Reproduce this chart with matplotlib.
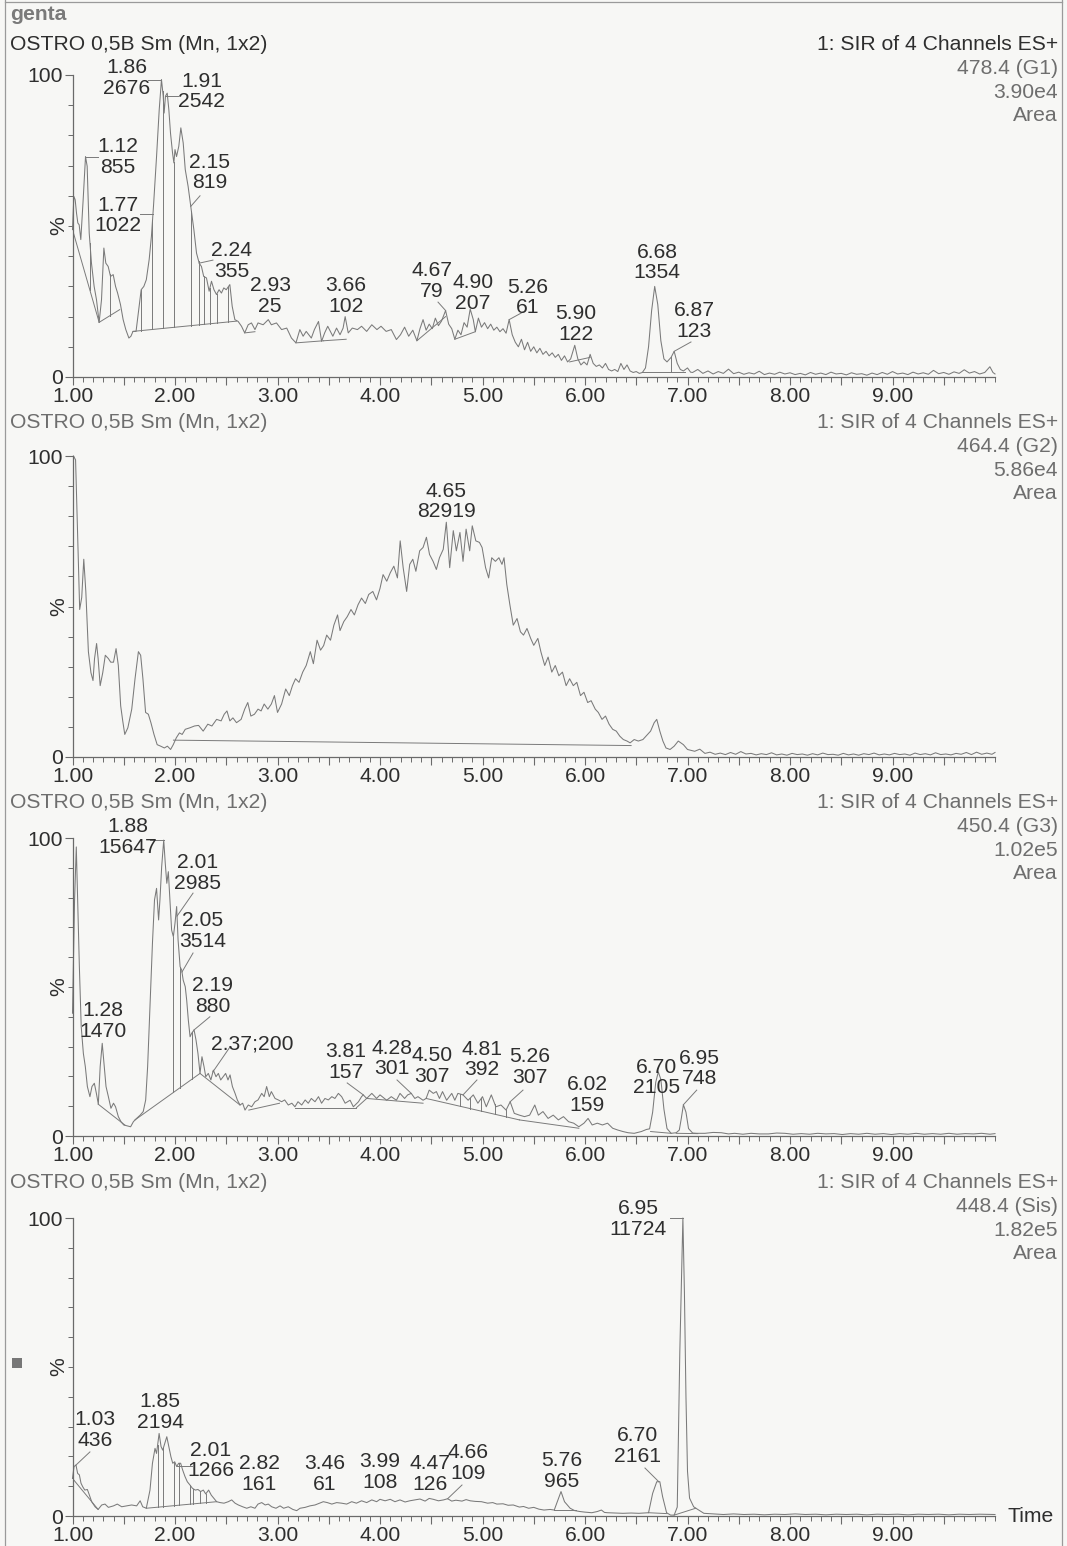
import numpy as np
import matplotlib.pyplot as plt
from matplotlib.lines import Line2D
from matplotlib.patches import Rectangle
from matplotlib.ticker import FixedLocator, MultipleLocator

plt.rcParams['font.family'] = ['Liberation Sans', 'DejaVu Sans']

W, H = 1067, 1546

# ---------------- 478.4 (G1) ----------------
g1_trace = [
    (1.000, 48.8), (1.013, 59.8), (1.026, 58.7), (1.039, 54.3), (1.052, 51.0), (1.065, 50.4),
    (1.081, 45.5), (1.104, 58.7), (1.127, 73.0), (1.143, 69.8), (1.163, 47.7), (1.185, 37.7),
    (1.211, 30.0), (1.234, 25.6), (1.260, 18.1), (1.283, 25.6), (1.306, 42.7), (1.325, 37.7),
    (1.348, 36.6), (1.371, 33.3), (1.397, 33.9), (1.420, 30.0), (1.440, 27.8), (1.468, 24.0),
    (1.494, 19.0), (1.520, 15.7), (1.550, 12.9), (1.570, 13.5), (1.590, 15.1), (1.620, 15.1),
    (1.650, 23.4), (1.670, 28.9), (1.696, 30.0), (1.720, 32.2), (1.748, 38.9), (1.770, 46.6),
    (1.790, 56.5), (1.820, 73.0), (1.846, 88.5), (1.868, 98.5), (1.885, 93.0), (1.894, 87.4),
    (1.907, 93.0), (1.924, 94.0), (1.940, 88.5), (1.956, 80.8), (1.976, 74.2), (1.989, 70.9),
    (2.000, 75.3), (2.015, 73.0), (2.037, 76.4), (2.057, 82.5), (2.080, 77.5), (2.100, 68.7),
    (2.128, 63.1), (2.154, 56.5), (2.184, 48.8), (2.210, 41.0), (2.236, 37.7), (2.258, 36.6),
    (2.280, 33.3), (2.307, 32.8), (2.333, 28.4), (2.356, 31.7), (2.380, 28.9), (2.405, 27.3),
    (2.430, 28.9), (2.453, 27.8), (2.476, 29.5), (2.500, 28.9), (2.535, 30.6), (2.558, 23.4),
    (2.584, 19.0), (2.616, 18.4), (2.649, 16.8), (2.680, 14.6), (2.714, 17.3), (2.746, 17.9),
    (2.780, 15.7), (2.810, 17.9), (2.860, 17.3), (2.910, 19.0), (2.940, 17.3), (2.990, 17.9),
    (3.040, 15.7), (3.090, 16.2), (3.136, 12.9), (3.180, 11.3), (3.218, 15.7), (3.250, 13.5),
    (3.280, 15.1), (3.330, 12.9), (3.360, 15.7), (3.400, 18.4), (3.430, 11.8), (3.460, 14.6),
    (3.490, 16.8), (3.540, 13.5), (3.576, 16.2), (3.610, 14.0), (3.640, 16.2), (3.660, 20.0),
    (3.690, 14.6), (3.730, 16.2), (3.780, 15.7), (3.820, 16.8), (3.870, 15.1), (3.920, 17.3),
    (3.970, 15.7), (4.010, 16.8), (4.060, 15.1), (4.110, 15.7), (4.160, 12.4), (4.200, 14.0),
    (4.240, 16.5), (4.280, 13.5), (4.320, 15.5), (4.360, 12.0), (4.390, 16.0), (4.420, 19.0),
    (4.450, 15.5), (4.480, 17.5), (4.510, 16.0), (4.540, 19.5), (4.570, 17.0), (4.600, 18.5),
    (4.640, 22.0), (4.670, 17.5), (4.700, 16.0), (4.730, 12.5), (4.760, 15.5), (4.790, 14.0),
    (4.820, 18.0), (4.850, 16.5), (4.880, 22.5), (4.910, 19.0), (4.930, 15.0), (4.960, 19.5),
    (4.990, 16.5), (5.020, 18.0), (5.050, 16.0), (5.080, 17.5), (5.110, 15.5), (5.140, 16.5),
    (5.170, 15.0), (5.200, 16.0), (5.230, 14.5), (5.260, 19.0), (5.290, 14.0), (5.320, 11.5),
    (5.350, 10.0), (5.380, 12.5), (5.410, 9.0), (5.440, 11.5), (5.470, 8.5), (5.500, 10.0),
    (5.530, 8.0), (5.560, 9.5), (5.590, 7.5), (5.620, 8.5), (5.650, 7.0), (5.680, 8.0),
    (5.710, 6.5), (5.740, 7.5), (5.770, 5.5), (5.800, 7.0), (5.830, 5.0), (5.860, 6.0),
    (5.900, 10.5), (5.930, 6.0), (5.960, 4.0), (5.990, 5.0), (6.020, 4.0), (6.050, 7.5),
    (6.080, 4.5), (6.110, 3.5), (6.140, 4.0), (6.170, 3.0), (6.200, 4.5), (6.230, 2.5),
    (6.260, 2.0), (6.290, 2.5), (6.320, 1.8), (6.350, 4.5), (6.380, 2.5), (6.410, 4.0),
    (6.440, 2.0), (6.470, 1.5), (6.500, 1.8), (6.530, 1.2), (6.560, 1.5), (6.590, 3.0),
    (6.620, 10.0), (6.650, 22.0), (6.680, 30.0), (6.710, 24.0), (6.740, 12.0), (6.770, 6.0),
    (6.800, 5.0), (6.840, 6.5), (6.870, 8.5), (6.900, 4.5), (6.930, 2.5), (6.960, 2.0),
    (7.000, 3.0), (7.030, 1.6), (7.050, 1.5), (7.100, 2.5), (7.150, 1.2), (7.200, 2.0),
    (7.250, 1.0), (7.300, 1.8), (7.350, 1.2), (7.400, 2.6), (7.450, 1.1), (7.500, 1.6),
    (7.550, 0.9), (7.600, 1.4), (7.650, 1.0), (7.700, 1.9), (7.750, 0.8), (7.800, 1.3),
    (7.850, 0.9), (7.900, 1.6), (7.950, 1.0), (8.000, 1.4), (8.050, 0.8), (8.100, 1.2),
    (8.150, 0.7), (8.200, 1.5), (8.250, 0.9), (8.300, 1.3), (8.350, 0.8), (8.400, 1.6),
    (8.450, 1.0), (8.500, 1.2), (8.550, 0.7), (8.600, 1.4), (8.650, 0.9), (8.700, 1.1),
    (8.750, 0.6), (8.800, 1.3), (8.850, 0.8), (8.900, 1.5), (8.950, 0.9), (9.000, 1.8),
    (9.050, 1.0), (9.100, 1.3), (9.150, 0.8), (9.200, 1.6), (9.250, 1.0), (9.300, 1.4),
    (9.350, 0.9), (9.400, 2.2), (9.450, 1.1), (9.500, 1.5), (9.550, 0.9), (9.600, 1.7),
    (9.650, 1.2), (9.700, 2.4), (9.750, 1.3), (9.800, 1.8), (9.850, 1.0), (9.900, 1.5),
    (9.950, 3.4), (9.980, 1.5), (10.00, 1.0),
]
g1_base = [(1.00, 48.8, 1.26, 18.1), (1.26, 18.1, 1.46, 22.3), (1.59, 15.1, 2.60, 18.5),
           (2.68, 14.6, 2.78, 15.0), (3.18, 11.3, 3.45, 12.0), (3.45, 12.0, 3.67, 12.5),
           (4.36, 12.0, 4.64, 20.0), (4.73, 12.5, 4.93, 15.0), (5.85, 5.0, 6.05, 6.5),
           (6.56, 1.5, 6.98, 1.5)]
g1_drops = [1.17, 1.365, 1.67, 1.78, 1.88, 1.99, 2.16, 2.23, 2.28, 2.34, 2.41, 2.52, 6.84]
g1_labels = ['1.86\n2676', '1.91\n2542', '1.12\n855', '1.77\n1022', '2.15\n819', '2.24\n355',
             '2.93\n25', '3.66\n102', '4.67\n79', '4.90\n207', '5.26\n61', '5.90\n122',
             '6.68\n1354', '6.87\n123']
g1_lab_pos = [(1.532, 99.0), (2.263, 94.5), (1.444, 72.8), (1.444, 53.5), (2.341, 67.7),
              (2.556, 38.4), (2.927, 26.8), (3.668, 26.8), (4.507, 31.8), (4.907, 27.8),
              (5.444, 26.3), (5.912, 17.5), (6.702, 37.9), (7.063, 18.5)]
g1_leaders = [(1.737, None, 1.868), (2.03, None, 1.907), (1.249, None, 1.127),
              (1.659, None, 1.785), (2.244, 60.0, 2.154), (2.37, 38.7, 2.236),
              None, None, (4.566, 24.8, 4.64), None, (5.395, 21.5, 5.26), None, None,
              (7.034, 11.6, 6.87)]

# ---------------- 464.4 (G2) ----------------
g2_trace = [
    (1.010, 100.0), (1.030, 98.7), (1.055, 68.0), (1.070, 49.0), (1.090, 53.0), (1.110, 65.7),
    (1.130, 55.0), (1.155, 35.0), (1.180, 28.0), (1.200, 25.4), (1.215, 32.7), (1.235, 37.7),
    (1.250, 32.7), (1.270, 23.7), (1.295, 28.0), (1.320, 33.8), (1.350, 32.7), (1.373, 31.5),
    (1.400, 31.5), (1.425, 36.0), (1.447, 30.4), (1.470, 17.0), (1.490, 12.0), (1.510, 7.5),
    (1.540, 9.7), (1.578, 15.9), (1.610, 26.0), (1.643, 35.0), (1.665, 33.8), (1.687, 26.0),
    (1.713, 14.8), (1.740, 14.2), (1.765, 11.4), (1.795, 7.5), (1.826, 4.1), (1.860, 3.6),
    (1.896, 3.0), (1.926, 3.6), (1.957, 2.5), (1.983, 4.1), (2.013, 6.4), (2.043, 8.0),
    (2.070, 7.5), (2.100, 9.2), (2.145, 9.7), (2.190, 10.3), (2.230, 10.5), (2.275, 8.6),
    (2.320, 10.9), (2.360, 10.3), (2.406, 12.5), (2.450, 12.0), (2.480, 14.2), (2.507, 15.3),
    (2.535, 12.0), (2.565, 13.0), (2.600, 11.4), (2.645, 12.5), (2.680, 15.9), (2.710, 18.1),
    (2.740, 13.6), (2.775, 14.2), (2.810, 15.9), (2.840, 15.3), (2.870, 17.6), (2.906, 15.9),
    (2.940, 17.6), (2.970, 20.4), (3.000, 14.8), (3.040, 17.6), (3.080, 22.6), (3.115, 20.4),
    (3.146, 23.7), (3.176, 26.0), (3.210, 24.8), (3.246, 28.2), (3.280, 30.4), (3.320, 35.0),
    (3.350, 31.0), (3.386, 38.8), (3.420, 35.5), (3.450, 37.0), (3.480, 40.5), (3.517, 38.8),
    (3.550, 43.8), (3.586, 47.2), (3.610, 42.0), (3.647, 45.0), (3.680, 46.6), (3.717, 49.0),
    (3.750, 47.2), (3.786, 50.6), (3.820, 52.8), (3.857, 51.0), (3.890, 54.0), (3.930, 55.0),
    (3.966, 52.2), (4.000, 56.0), (4.030, 60.6), (4.066, 58.4), (4.100, 61.2), (4.135, 63.4),
    (4.170, 59.5), (4.197, 71.8), (4.226, 62.9), (4.260, 55.0), (4.290, 64.0), (4.320, 65.7),
    (4.350, 61.7), (4.387, 68.5), (4.420, 69.6), (4.453, 73.0), (4.483, 67.3), (4.518, 65.0),
    (4.550, 62.3), (4.580, 66.2), (4.617, 69.0), (4.647, 78.0), (4.680, 62.9), (4.715, 75.2),
    (4.745, 68.5), (4.780, 74.6), (4.810, 65.0), (4.840, 75.7), (4.875, 68.5), (4.900, 76.8),
    (4.935, 71.8), (4.970, 71.3), (4.996, 69.6), (5.030, 62.9), (5.060, 59.5), (5.090, 66.2),
    (5.126, 65.0), (5.160, 66.2), (5.190, 64.0), (5.210, 66.2), (5.237, 57.3), (5.267, 50.6),
    (5.300, 43.8), (5.337, 46.0), (5.370, 41.6), (5.400, 40.5), (5.434, 42.7), (5.470, 39.4),
    (5.500, 37.1), (5.540, 39.4), (5.570, 34.9), (5.607, 30.4), (5.640, 33.2), (5.676, 28.2),
    (5.710, 30.4), (5.745, 27.0), (5.780, 28.2), (5.816, 23.7), (5.850, 26.0), (5.886, 23.7),
    (5.920, 24.8), (5.956, 20.4), (5.990, 21.5), (6.026, 18.1), (6.060, 18.7), (6.100, 15.9),
    (6.130, 14.8), (6.166, 12.5), (6.200, 13.6), (6.235, 10.9), (6.270, 9.2), (6.305, 8.6),
    (6.340, 6.9), (6.374, 5.8), (6.410, 5.3), (6.440, 4.7), (6.480, 5.8), (6.520, 5.3),
    (6.565, 5.8), (6.610, 7.5), (6.640, 8.6), (6.675, 11.4), (6.700, 12.5), (6.730, 8.6),
    (6.760, 5.3), (6.790, 3.0), (6.830, 2.5), (6.870, 3.6), (6.910, 5.3), (6.960, 4.1),
    (7.000, 2.5), (7.070, 1.9), (7.120, 2.6), (7.170, 1.2), (7.220, 1.6), (7.270, 0.9),
    (7.320, 1.3), (7.370, 0.8), (7.420, 1.5), (7.470, 0.9), (7.520, 1.8), (7.570, 1.0),
    (7.620, 1.2), (7.670, 0.7), (7.720, 1.1), (7.770, 0.8), (7.820, 1.4), (7.870, 0.7),
    (7.920, 1.0), (7.970, 0.6), (8.020, 1.2), (8.070, 0.8), (8.120, 1.0), (8.170, 0.6),
    (8.220, 1.1), (8.270, 0.7), (8.320, 1.3), (8.370, 0.8), (8.420, 0.9), (8.470, 0.6),
    (8.520, 1.2), (8.570, 0.7), (8.620, 1.0), (8.670, 0.6), (8.720, 1.1), (8.770, 0.8),
    (8.820, 1.3), (8.870, 0.7), (8.920, 1.0), (8.970, 0.7), (9.020, 1.2), (9.070, 0.8),
    (9.120, 1.0), (9.170, 0.6), (9.220, 1.3), (9.270, 0.8), (9.320, 1.1), (9.370, 0.7),
    (9.420, 1.4), (9.470, 0.8), (9.520, 1.0), (9.570, 0.7), (9.620, 1.2), (9.670, 0.9),
    (9.720, 1.5), (9.770, 0.8), (9.820, 1.6), (9.870, 0.9), (9.920, 1.3), (9.970, 0.9),
    (10.00, 1.5),
]
g2_base = [(1.985, 5.6, 6.45, 3.8)]
g2_drops = []
g2_labels = ['4.65\n82919']
g2_lab_pos = [(4.645, 84.9)]
g2_leaders = [None]

# ---------------- 450.4 (G3) ----------------
g3_trace = [
    (1.000, 41.2), (1.020, 79.0), (1.037, 97.0), (1.050, 79.0), (1.067, 56.8), (1.085, 36.7),
    (1.106, 27.7), (1.125, 23.3), (1.145, 16.6), (1.170, 13.2), (1.190, 16.6), (1.213, 17.7),
    (1.233, 14.3), (1.252, 10.7), (1.270, 23.3), (1.290, 31.1), (1.307, 24.4), (1.327, 16.6),
    (1.350, 13.2), (1.375, 9.3), (1.400, 11.0), (1.420, 9.8), (1.447, 6.5), (1.473, 4.8),
    (1.500, 3.7), (1.535, 3.4), (1.567, 3.1), (1.594, 4.8), (1.625, 5.9), (1.660, 7.0),
    (1.690, 8.2), (1.714, 12.1), (1.733, 23.3), (1.756, 43.4), (1.780, 64.7), (1.800, 79.2),
    (1.820, 83.1), (1.840, 72.5), (1.853, 79.2), (1.870, 90.4), (1.890, 99.3), (1.905, 91.5),
    (1.920, 84.8), (1.935, 88.7), (1.950, 79.2), (1.967, 69.1), (1.984, 66.9), (2.000, 71.4),
    (2.016, 77.0), (2.030, 65.8), (2.050, 56.8), (2.065, 55.7), (2.080, 52.3), (2.100, 50.1),
    (2.114, 45.6), (2.130, 38.9), (2.147, 33.3), (2.163, 34.5), (2.186, 35.6), (2.205, 32.2),
    (2.224, 27.7), (2.244, 21.0), (2.263, 26.6), (2.283, 23.3), (2.300, 19.9), (2.325, 21.0),
    (2.350, 18.8), (2.374, 22.1), (2.400, 19.9), (2.423, 21.0), (2.446, 18.8), (2.470, 19.9),
    (2.494, 21.0), (2.517, 18.8), (2.537, 20.5), (2.560, 16.6), (2.586, 14.3), (2.608, 12.1),
    (2.634, 10.4), (2.660, 11.0), (2.683, 8.7), (2.715, 10.4), (2.748, 9.8), (2.780, 11.5),
    (2.810, 12.1), (2.846, 14.3), (2.870, 13.2), (2.894, 16.6), (2.920, 13.2), (2.940, 14.9),
    (2.976, 12.6), (3.008, 12.1), (3.040, 11.5), (3.070, 12.1), (3.105, 10.4), (3.140, 11.0),
    (3.170, 9.8), (3.200, 11.5), (3.236, 10.4), (3.270, 12.1), (3.300, 11.0), (3.330, 12.6),
    (3.366, 11.5), (3.400, 13.2), (3.430, 11.0), (3.463, 12.6), (3.496, 12.1), (3.530, 13.2),
    (3.560, 12.6), (3.594, 14.3), (3.626, 13.2), (3.660, 11.0), (3.708, 12.0), (3.740, 9.8),
    (3.790, 11.5), (3.820, 13.2), (3.837, 13.8), (3.870, 12.6), (3.920, 14.3), (3.967, 12.6),
    (4.000, 13.8), (4.065, 12.0), (4.110, 13.2), (4.160, 12.0), (4.195, 14.3), (4.240, 12.6),
    (4.270, 13.8), (4.305, 14.3), (4.340, 12.6), (4.370, 13.2), (4.420, 12.0), (4.450, 12.6),
    (4.480, 15.4), (4.520, 14.3), (4.550, 14.9), (4.580, 12.6), (4.610, 14.9), (4.650, 12.0),
    (4.700, 14.3), (4.730, 12.0), (4.760, 14.3), (4.810, 13.8), (4.860, 12.0), (4.910, 13.8),
    (4.955, 11.0), (5.000, 13.2), (5.037, 9.8), (5.086, 13.8), (5.130, 9.8), (5.180, 10.4),
    (5.230, 8.7), (5.270, 11.5), (5.310, 7.6), (5.360, 7.0), (5.410, 6.5), (5.460, 7.0),
    (5.510, 10.4), (5.545, 7.0), (5.590, 8.2), (5.640, 5.9), (5.690, 7.0), (5.740, 5.4),
    (5.790, 6.5), (5.840, 4.8), (5.890, 4.3), (5.940, 3.1), (5.990, 4.3), (6.030, 5.9),
    (6.070, 3.7), (6.120, 4.3), (6.170, 3.7), (6.220, 4.3), (6.270, 2.6), (6.320, 2.0),
    (6.370, 1.5), (6.420, 1.1), (6.480, 0.9), (6.550, 1.5), (6.600, 2.2), (6.630, 2.4),
    (6.660, 8.0), (6.690, 18.0), (6.715, 21.5), (6.740, 19.0), (6.770, 9.0), (6.800, 2.5),
    (6.840, 0.9), (6.890, 1.1), (6.920, 2.0), (6.940, 6.0), (6.960, 10.5), (6.985, 8.0),
    (7.010, 2.5), (7.050, 1.0), (7.090, 0.9), (7.170, 0.9), (7.250, 1.2), (7.330, 1.1),
    (7.400, 0.7), (7.460, 0.9), (7.540, 0.6), (7.620, 0.9), (7.700, 0.7), (7.790, 0.7),
    (7.870, 1.0), (7.950, 0.9), (8.030, 0.6), (8.110, 0.8), (8.190, 0.6), (8.270, 0.9),
    (8.350, 0.7), (8.430, 0.8), (8.510, 0.5), (8.590, 0.8), (8.670, 0.6), (8.750, 0.9),
    (8.830, 0.6), (8.910, 0.8), (8.990, 0.5), (9.070, 0.8), (9.150, 0.6), (9.230, 0.9),
    (9.310, 0.6), (9.390, 0.8), (9.470, 0.6), (9.550, 0.9), (9.630, 0.6), (9.710, 0.8),
    (9.790, 0.7), (9.870, 0.9), (9.950, 0.6), (10.00, 0.8),
]
g3_base = [(1.25, 10.7, 1.51, 3.7), (1.61, 5.4, 2.244, 21.0), (2.244, 21.0, 2.634, 10.4),
           (2.72, 8.7, 3.02, 11.0), (3.17, 9.5, 3.77, 9.5), (3.77, 9.5, 3.87, 12.6),
           (3.87, 12.6, 4.42, 11.0), (4.45, 12.6, 5.36, 5.4), (5.36, 5.4, 5.94, 2.6),
           (6.64, 1.5, 6.84, 0.9), (6.89, 0.9, 7.10, 0.8)]
g3_drops = [1.984, 2.05, 2.17, 4.78, 4.88, 4.99, 5.12, 5.23]
g3_labels = ['1.88\n15647', '2.01\n2985', '2.05\n3514', '2.19\n880', '1.28\n1470', '2.37;200',
             '3.81\n157', '4.28\n301', '4.50\n307', '4.81\n392', '5.26\n307', '6.02\n159',
             '6.70\n2105', '6.95\n748']
g3_lab_pos = [(1.542, 100.3), (2.224, 88.3), (2.27, 68.8), (2.37, 47.0), (1.298, 38.6),
              (2.751, 30.9), (3.668, 24.8), (4.117, 26.0), (4.507, 23.5), (4.995, 25.7),
              (5.463, 23.2), (6.02, 13.8), (6.70, 19.6), (7.12, 22.7)]
g3_leaders = [(1.756, None, 1.89), (2.176, 81.5, 2.02), (2.176, 61.4, 2.068),
              (2.34, 40.0, 2.186), None, (2.537, 29.9, 2.37), (3.68, 17.8, 3.837),
              (4.166, 18.8, 4.305), None, (4.946, 18.8, 4.81), (5.395, 15.4, 5.27),
              None, None, (7.09, 15.4, 6.96)]

# ---------------- 448.4 (Sis) ----------------
g4_trace = [
    (1.000, 12.6), (1.015, 16.6), (1.034, 17.1), (1.050, 14.3), (1.067, 13.8), (1.083, 11.0),
    (1.100, 9.8), (1.120, 8.7), (1.145, 8.9), (1.165, 7.0), (1.187, 4.8), (1.220, 3.1),
    (1.250, 2.2), (1.285, 3.7), (1.317, 4.0), (1.350, 2.9), (1.400, 3.4), (1.437, 4.0),
    (1.480, 3.1), (1.530, 3.4), (1.577, 3.7), (1.626, 3.4), (1.660, 5.1), (1.685, 3.1),
    (1.720, 2.6), (1.756, 8.7), (1.780, 17.7), (1.805, 22.7), (1.820, 21.0), (1.845, 27.7),
    (1.864, 23.3), (1.880, 22.1), (1.900, 24.4), (1.920, 26.6), (1.940, 23.3), (1.960, 19.9),
    (1.978, 17.7), (1.997, 18.2), (2.016, 16.6), (2.036, 17.7), (2.055, 17.7), (2.075, 15.4),
    (2.098, 13.2), (2.120, 11.5), (2.146, 10.4), (2.170, 9.3), (2.198, 8.7), (2.224, 8.9),
    (2.250, 8.2), (2.276, 8.7), (2.300, 7.4), (2.328, 8.7), (2.354, 7.0), (2.380, 5.9),
    (2.406, 4.8), (2.440, 4.5), (2.478, 4.3), (2.520, 4.8), (2.553, 5.4), (2.586, 4.3),
    (2.618, 3.7), (2.660, 3.1), (2.700, 2.6), (2.740, 3.1), (2.780, 2.6), (2.810, 4.0),
    (2.846, 4.5), (2.880, 3.7), (2.910, 4.0), (2.943, 3.1), (2.985, 2.6), (3.025, 3.4),
    (3.060, 2.6), (3.105, 3.1), (3.150, 2.2), (3.187, 1.8), (3.220, 2.6), (3.270, 2.9),
    (3.317, 3.4), (3.366, 3.7), (3.410, 4.3), (3.447, 4.8), (3.486, 4.5), (3.530, 4.0),
    (3.577, 4.5), (3.626, 4.3), (3.675, 4.0), (3.724, 4.8), (3.770, 4.3), (3.820, 5.1),
    (3.870, 4.5), (3.920, 5.4), (3.967, 4.8), (4.000, 5.6), (4.050, 5.1), (4.100, 5.6),
    (4.146, 4.8), (4.195, 5.4), (4.245, 4.7), (4.290, 5.1), (4.340, 5.4), (4.390, 5.7),
    (4.440, 5.0), (4.480, 5.9), (4.520, 5.6), (4.570, 5.1), (4.620, 5.4), (4.660, 5.8),
    (4.700, 5.0), (4.740, 5.3), (4.800, 5.0), (4.840, 5.5), (4.880, 5.1), (4.930, 4.9),
    (4.990, 4.8), (5.050, 4.3), (5.100, 4.5), (5.140, 4.0), (5.200, 4.1), (5.250, 3.6),
    (5.300, 3.7), (5.360, 3.0), (5.400, 3.2), (5.450, 2.6), (5.500, 2.9), (5.550, 2.3),
    (5.600, 2.0), (5.660, 2.2), (5.700, 2.0), (5.730, 4.8), (5.766, 8.2), (5.800, 4.8),
    (5.855, 2.6), (5.900, 1.8), (5.950, 1.5), (6.000, 1.3), (6.066, 1.1), (6.120, 1.5),
    (6.160, 2.0), (6.190, 1.2), (6.220, 1.1), (6.300, 1.0), (6.370, 0.9), (6.450, 1.0),
    (6.526, 0.9), (6.580, 1.0), (6.620, 1.1), (6.660, 7.6), (6.700, 11.5), (6.730, 11.5),
    (6.757, 6.5), (6.796, 1.1), (6.835, 0.3), (6.870, 0.3), (6.900, 3.0), (6.925, 55.0),
    (6.955, 100.0), (6.970, 75.0), (6.985, 40.0), (7.000, 15.0), (7.020, 6.0), (7.060, 3.1),
    (7.100, 2.2), (7.160, 0.9), (7.250, 0.7), (7.350, 0.5), (7.450, 0.7), (7.550, 0.5),
    (7.650, 0.6), (7.750, 0.4), (7.850, 0.6), (7.950, 0.5), (8.050, 0.7), (8.150, 0.5),
    (8.250, 0.6), (8.350, 0.4), (8.450, 0.6), (8.550, 0.5), (8.650, 0.6), (8.750, 0.4),
    (8.850, 0.6), (8.950, 0.5), (9.050, 0.6), (9.150, 0.4), (9.250, 0.6), (9.350, 0.5),
    (9.450, 0.6), (9.550, 0.4), (9.650, 0.6), (9.750, 0.5), (9.850, 0.6), (10.00, 0.5),
]
g4_base = [(1.00, 12.6, 1.25, 2.2), (1.72, 2.6, 2.406, 4.8), (5.70, 2.0, 5.91, 2.0),
           (6.62, 1.1, 6.80, 0.8), (6.87, 0.3, 7.08, 2.6)]
g4_drops = [1.83, 1.886, 1.99, 2.04, 2.146, 2.18, 2.24, 2.30]
g4_labels = ['1.03\n436', '1.85\n2194', '2.01\n1266', '2.82\n161', '3.46\n61', '3.99\n108',
             '4.47\n126', '4.66\n109', '5.76\n965', '6.70\n2161', '6.95\n11724']
g4_lab_pos = [(1.22, 28.9), (1.854, 34.9), (2.351, 18.6), (2.82, 14.1), (3.463, 14.1),
              (4.0, 14.8), (4.49, 14.1), (4.858, 17.8), (5.776, 15.1), (6.51, 23.5),
              (6.52, 99.7)]
g4_leaders = [(1.17, 21.5, 1.034), None, (2.166, None, 2.02), None, None, None, None,
              (4.80, 10.4, 4.66), None, (6.585, 16.1, 6.72), (6.83, None, 6.955)]

# header texts
channel_names = ['478.4 (G1)', '464.4 (G2)', '450.4 (G3)', '448.4 (Sis)']
channel_max = ['3.90e4', '5.86e4', '1.02e5', '1.82e5']

# panel geometry in pixels (y of 0% and 100%) and header rows
panel_px = [(377, 75), (757, 456), (1136, 838), (1516, 1218)]
header_px = [45, 423, 803, 1183]

panels = [
    (g1_trace, g1_base, g1_drops, g1_labels, g1_lab_pos, g1_leaders),
    (g2_trace, g2_base, g2_drops, g2_labels, g2_lab_pos, g2_leaders),
    (g3_trace, g3_base, g3_drops, g3_labels, g3_lab_pos, g3_leaders),
    (g4_trace, g4_base, g4_drops, g4_labels, g4_lab_pos, g4_leaders),
]

line_c = '#7a7a7a'
text_c = '#2e2e2e'
grey_c = '#6e6e6e'
FS = 15.2

fig = plt.figure(figsize=(W / 100, H / 100), dpi=100, facecolor='#f7f7f5')
x_left, x_right = 72.5, 995.0


def base_at(base, t):
    for t0, y0, t1, y1 in base:
        if t0 <= t <= t1:
            return y0 + (t - t0) / (t1 - t0) * (y1 - y0)
    return 0.0


for i, (trace, base, drops, labels, lab_pos, leaders) in enumerate(panels):
    y0px, y100px = panel_px[i]
    ax = fig.add_axes([x_left / W, 1 - y0px / H, (x_right - x_left) / W, (y0px - y100px) / H])
    ax.set_facecolor('none')
    t = np.array([p[0] for p in trace])
    v = np.array([p[1] for p in trace])
    ax.plot(t, v, color=line_c, lw=0.75, clip_on=False)

    for t0, b0, t1, b1 in base:
        ax.plot([t0, t1], [b0, b1], color=line_c, lw=0.7)
    for d in drops:
        ax.plot([d, d], [base_at(base, d), np.interp(d, t, v)], color=line_c, lw=0.7)

    for lab, (lx, ly), ld in zip(labels, lab_pos, leaders):
        ax.text(lx, ly, lab, ha='center', va='center', fontsize=FS, color=text_c,
                linespacing=1.1, clip_on=False)
        if ld is not None:
            sx, sy, pk = ld
            pv = np.interp(pk, t, v)
            if sy is None:
                sy = pv
            ax.plot([sx, pk], [sy, pv], color=line_c, lw=0.7, clip_on=False)

    ax.set_xlim(1, 10)
    ax.set_ylim(0, 100)
    for s in ['top', 'right']:
        ax.spines[s].set_visible(False)
    for s in ['left', 'bottom']:
        ax.spines[s].set_color('#6a6a6a')
        ax.spines[s].set_linewidth(0.9)
    ax.xaxis.set_major_locator(FixedLocator(np.arange(1, 10.0, 0.5)))
    ax.set_xticklabels(['%.2f' % x if x == int(x) else '' for x in np.arange(1, 10.0, 0.5)])
    ax.xaxis.set_minor_locator(MultipleLocator(0.1))
    ax.set_yticks([0, 100])
    ax.set_yticklabels(['0', '100'])
    ax.yaxis.set_minor_locator(MultipleLocator(10))
    ax.tick_params(which='major', length=6, width=0.8, color='#6a6a6a', labelsize=FS,
                   labelcolor=text_c, pad=1.0)
    ax.tick_params(which='minor', length=3.5, width=0.7, color='#6a6a6a')
    ax.set_ylabel('%', fontsize=FS, color=text_c)
    ax.yaxis.set_label_coords(-0.005, 0.5)

    hy = 1 - header_px[i] / H
    hc = text_c if i == 0 else grey_c
    fig.text(10 / W, hy, 'OSTRO 0,5B Sm (Mn, 1x2)', fontsize=FS, color=hc, va='center')
    right_rows = ['1: SIR of 4 Channels ES+', channel_names[i], channel_max[i], 'Area']
    for k, row in enumerate(right_rows):
        fig.text(1058 / W, 1 - (header_px[i] + 23.5 * k) / H, row, fontsize=FS,
                 color=(text_c if (i == 0 and k == 0) else grey_c), ha='right', va='center')

fig.text(10 / W, 1 - 14 / H, 'genta', fontsize=FS, fontweight='bold', color='#7a7a7a', va='center')
fig.text(1008 / W, 1 - 1517 / H, 'Time', fontsize=FS, color=text_c, va='center')
fig.add_artist(Rectangle((12 / W, 1 - 1368 / H), 10 / W, 10 / H, transform=fig.transFigure,
                         facecolor='#777777', edgecolor='none'))
for xs, ys in [([5, 5], [0, H]), ([1062, 1062], [0, H]), ([5, 1062], [2, 2])]:
    fig.add_artist(Line2D([x / W for x in xs], [1 - y / H for y in ys], color='#9a9a9a',
                          lw=0.9, transform=fig.transFigure))

fig.savefig('out.png', dpi=100, facecolor=fig.get_facecolor())
